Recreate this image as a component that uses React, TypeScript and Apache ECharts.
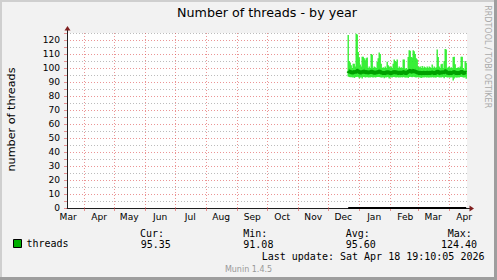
import React, { useEffect, useRef } from 'react';
import * as echarts from 'echarts';

// ---- data ----
const firstDay = { year: 2025, month: 11, day: 21 }; // 21 Dec 2025, one value per day
const threadsHigh = [
  123.5, 105, 104, 102, 100, 103, 103, 101, 124.4, 124,
  111.5, 107.5, 102.5, 101, 108, 108, 107, 105.5, 107, 107.5,
  100, 101, 100, 110, 109.5, 100, 101, 100.5, 100, 104.5,
  107, 111, 110, 103, 100, 100.5, 100, 101, 100, 104.5,
  102, 101, 100.5, 101, 100, 103, 106, 105, 104.5, 106,
  100, 101, 100, 100.5, 100, 106, 106, 99.5, 100, 99,
  107.8, 112.6, 112.4, 107.8, 107.5, 112.6, 112, 110, 107, 106,
  101, 100.5, 101, 100, 101.5, 100, 101, 100.5, 100, 101,
  100, 101, 100.5, 100, 102.5, 100, 101, 100, 100.5, 113.3,
  107.8, 101, 100, 102.6, 103, 100, 105, 113.5, 113.3, 100,
  100.5, 101, 100, 100.5, 100, 107.8, 108, 102.6, 100, 100,
  100.5, 100, 101, 108, 108, 100, 99, 105, 103.8,
];
const threadsLow = [
  94, 93.5, 93.4, 93.6, 93.2, 93.5, 92.8, 93.4, 93.6, 93.8,
  93.5, 92.6, 93.3, 93.4, 92.5, 93.6, 93.5, 93.3, 93.4, 93.5,
  93.2, 93.4, 93.3, 93.5, 93.4, 93.2, 93.6, 93.3, 93.4, 93.5,
  93.6, 93.5, 93.4, 93.2, 93.3, 93.5, 92.7, 93.4, 93.3, 93.5,
  93.4, 92.5, 93.3, 93.4, 93.2, 93.5, 93.6, 93.4, 93.3, 93.5,
  93.3, 93.4, 93.2, 93.5, 93.3, 93.6, 93.4, 93.3, 93.2, 93.4,
  92.8, 93.6, 93.8, 93.5, 93.4, 93.7, 93.6, 93.4, 93.3, 93.5,
  93.2, 93.4, 93.3, 92.8, 93.3, 93.4, 93.2, 93.5, 93.3, 93.4,
  93.3, 93.2, 93.4, 93.3, 93.5, 93.2, 93.4, 93.3, 93.2, 93.6,
  93.5, 93.3, 93.4, 93.3, 93.5, 93.4, 92.6, 93.6, 93.5, 93.3,
  93.4, 93.3, 93.2, 93.4, 93.3, 91.1, 92.5, 93.4, 93.3, 93.2,
  93.4, 93.3, 93.5, 93.6, 93.5, 93.3, 93.2, 93.4, 92.3,
];
const threadsAvg = [
  98, 97.5, 97, 97.2, 96.8, 97, 97.3, 96.9, 97.4, 98,
  97.5, 97.2, 96.8, 97, 96.6, 97.3, 97.5, 97.1, 96.9, 97.2,
  96.8, 96.9, 96.5, 97.4, 97.2, 96.7, 96.6, 96.8, 96.5, 97,
  97.3, 97.6, 97.2, 96.8, 96.4, 96.5, 96.3, 96.6, 96.5, 97,
  96.8, 96.6, 96.2, 96.5, 96.4, 96.9, 97.3, 97, 96.8, 97.1,
  96.5, 96.7, 96.4, 96.6, 96.5, 97, 97.2, 96.5, 96.6, 96.4,
  97.5, 97.8, 97.9, 97.5, 97.2, 97.8, 97.6, 97.3, 97, 96.8,
  96.5, 96.4, 96.6, 96.2, 96.5, 96.4, 96.6, 96.3, 96.5, 96.6,
  96.4, 96.5, 96.6, 96.3, 96.8, 96.4, 96.5, 96.3, 96.6, 97.4,
  97.1, 96.6, 96.4, 96.8, 97, 96.5, 97, 97.6, 97.4, 96.6,
  96.5, 96.6, 96.4, 96.5, 96.3, 97, 97.2, 96.7, 96.4, 96.5,
  96.4, 96.5, 96.6, 97.2, 97.1, 96.5, 96.3, 96.8, 96.5,
];
const xTickLabels = ['Mar', 'Apr', 'May', 'Jun', 'Jul', 'Aug', 'Sep', 'Oct', 'Nov', 'Dec', 'Jan', 'Feb', 'Mar', 'Apr'];
const firstLabelMonth = { year: 2025, month: 2 }; // labels centred in each month (16th)
const rangeStart = [2025, 2, 14, 19, 10, 5];
const rangeEnd = [2026, 3, 18, 19, 10, 5];
const yMax = 125;
const yStep = 5;
const statLabels = ['Cur:', 'Min:', 'Avg:', 'Max:'];
const statValues = ['95.35', '91.08', '95.60', '124.40'];
const legendName = 'threads';
const titleText = 'Number of threads - by year';
const yAxisTitle = 'number of threads';
const lastUpdate = 'Last update: Sat Apr 18 19:10:05 2026';
const footer = 'Munin 1.4.5';
const watermark = 'RRDTOOL / TOBI OETIKER';

// ---- styles ----
const SANS = '"DejaVu Sans", sans-serif';
const MONO = '"DejaVu Sans Mono", monospace';
const MGRID = 'rgba(222,79,79,0.6)';
const GRID = 'rgba(143,143,143,0.6)';
const AXIS = '#1f1f1f';
const ARROW = '#801f1f';
const BRIGHT = '#26ee26';
const DARK = '#00a000';
const DAY = 86400000;

const mkDate = (a: number[]) => new Date(a[0], a[1], a[2], a[3], a[4], a[5]).getTime();

export default function App() {
  const ref = useRef<HTMLDivElement>(null);
  useEffect(() => {
    if (!ref.current) return;
    const chart = echarts.init(ref.current, undefined, { renderer: 'svg' });
    const dayTimes = threadsHigh.map((_, i) => new Date(firstDay.year, firstDay.month, firstDay.day + i).getTime());
    const labelTimes = xTickLabels.map((_, i) => new Date(firstLabelMonth.year, firstLabelMonth.month + i, 16).getTime());
    const monthStarts = xTickLabels.slice(1).map((_, i) => new Date(firstLabelMonth.year, firstLabelMonth.month + 1 + i, 1).getTime());
    const xMin = mkDate(rangeStart);
    const xMax = mkDate(rangeEnd);

    const texts: any[] = [];
    statLabels.forEach((s, i) => {
      const xs = [140, 243.3, 345.7, 447.7];
      texts.push({ type: 'text', x: xs[i], y: 233, style: { text: s, font: `10px ${MONO}`, fill: '#000', align: 'left', verticalAlign: 'middle' } });
    });
    statValues.forEach((s, i) => {
      const xs = [140.7, 243.3, 345.7, 441];
      texts.push({ type: 'text', x: xs[i], y: 244.3, style: { text: s, font: `10px ${MONO}`, fill: '#000', align: 'left', verticalAlign: 'middle' } });
    });

    const envelopeItem = (params: any, api: any) => {
      const t = api.value(0);
      const lo = api.value(1);
      const hi = api.value(2);
      const pTop = api.coord([t - DAY / 2, hi]);
      const pBot = api.coord([t + DAY / 2, lo]);
      return {
        type: 'rect',
        shape: { x: pTop[0] - 0.15, y: pTop[1], width: pBot[0] - pTop[0] + 0.3, height: pBot[1] - pTop[1] },
        style: { fill: BRIGHT },
      };
    };

    chart.setOption({
      animation: false,
      backgroundColor: '#f2f2f2',
      textStyle: { fontFamily: SANS },
      grid: { left: 67, top: 33, right: 30, bottom: 72, show: true, backgroundColor: '#ffffff', borderWidth: 0, containLabel: false, outerBoundsMode: 'none' },
      legend: {
        data: [legendName], left: 13, top: 238.5, padding: 0, icon: 'rect', itemWidth: 8, itemHeight: 8, selectedMode: false,
        itemStyle: { color: '#00b000', borderColor: '#000', borderWidth: 1 },
        textStyle: { fontFamily: MONO, fontSize: 10, color: '#000' },
      },
      xAxis: {
        type: 'value', min: xMin, max: xMax, scale: true,
        axisLine: { show: true, onZero: false, lineStyle: { color: AXIS, width: 1 } },
        axisTick: { show: true, customValues: monthStarts, length: 3, lineStyle: { color: MGRID } },
        splitLine: { show: true, lineStyle: { color: MGRID, type: [1, 2], width: 1 } },
        minorTick: { show: false }, minorSplitLine: { show: false },
        axisLabel: {
          show: true, customValues: labelTimes, margin: 4, color: '#000', fontSize: 9.1, fontFamily: SANS,
          hideOverlap: false,
          formatter: (v: number) => { const i = labelTimes.indexOf(v); return i >= 0 ? xTickLabels[i] : ''; },
        },
      },
      yAxis: {
        type: 'value', min: 0, max: yMax, interval: yStep,
        axisLine: { show: true, lineStyle: { color: AXIS, width: 1 } },
        axisTick: { show: true, length: 3, lineStyle: { color: MGRID } },
        splitLine: { show: true, lineStyle: { color: [MGRID, GRID], type: [1, 2], width: 1 } },
        axisLabel: {
          margin: 7, color: '#000', fontSize: 9.1, fontFamily: SANS, showMaxLabel: true,
          formatter: (v: number) => (v % 10 === 0 ? String(v) : ''),
        },
      },
      series: [
        {
          name: legendName, type: 'custom', silent: true, z: 3, color: '#00b000',
          renderItem: envelopeItem,
          encode: { x: 0, y: [1, 2] },
          data: dayTimes.map((t, i) => [t, threadsLow[i], threadsHigh[i]]),
        },
        {
          name: 'average', type: 'line', step: 'middle', symbol: 'none', silent: true, z: 4,
          lineStyle: { color: DARK, width: 4 },
          data: dayTimes.map((t, i) => [t, threadsAvg[i]]),
        },
        {
          name: 'known', type: 'line', symbol: 'none', silent: true, z: 5, clip: false,
          lineStyle: { color: '#000', width: 2 },
          data: [[dayTimes[0], 0], [dayTimes[dayTimes.length - 1], 0]],
        },
      ],
      graphic: [
        { type: 'rect', shape: { x: 0, y: 0, width: 497, height: 2 }, style: { fill: '#cfcfcf' }, z: 100 },
        { type: 'rect', shape: { x: 0, y: 0, width: 2, height: 280 }, style: { fill: '#cfcfcf' }, z: 100 },
        { type: 'rect', shape: { x: 494, y: 0, width: 3, height: 280 }, style: { fill: '#9e9e9e' }, z: 101 },
        { type: 'rect', shape: { x: 0, y: 277, width: 497, height: 3 }, style: { fill: '#9e9e9e' }, z: 101 },
        { type: 'line', shape: { x1: 67.5, y1: 29, x2: 67.5, y2: 33 }, style: { stroke: AXIS, lineWidth: 1 }, z: 50 },
        { type: 'polygon', shape: { points: [[64.5, 30.5], [67.5, 26], [70.5, 30.5]] }, style: { fill: ARROW }, z: 51 },
        { type: 'line', shape: { x1: 467, y1: 208.5, x2: 471, y2: 208.5 }, style: { stroke: AXIS, lineWidth: 1 }, z: 50 },
        { type: 'polygon', shape: { points: [[469.5, 205.5], [474, 208.5], [469.5, 211.5]] }, style: { fill: ARROW }, z: 51 },
        { type: 'text', x: 267, y: 12, style: { text: titleText, font: `12.7px ${SANS}`, fill: '#000', align: 'center', verticalAlign: 'middle' } },
        { type: 'text', x: 11.3, y: 119.5, rotation: Math.PI / 2, style: { text: yAxisTitle, font: `11.2px ${SANS}`, fill: '#000', align: 'center', verticalAlign: 'middle' } },
        { type: 'text', x: 487.5, y: 56.7, rotation: -Math.PI / 2, style: { text: watermark, font: `8px ${SANS}`, fill: '#aaaaaa', align: 'center', verticalAlign: 'middle' } },
        ...texts,
        { type: 'text', x: 261.7, y: 256.3, style: { text: lastUpdate, font: `10px ${MONO}`, fill: '#000', align: 'left', verticalAlign: 'middle' } },
        { type: 'text', x: 248.5, y: 269, style: { text: footer, font: `8px ${SANS}`, fill: '#999999', align: 'center', verticalAlign: 'middle' } },
      ],
    });
    return () => chart.dispose();
  }, []);
  return <div ref={ref} style={{ position: 'fixed', left: 0, top: 0, width: 497, height: 280 }} />;
}
